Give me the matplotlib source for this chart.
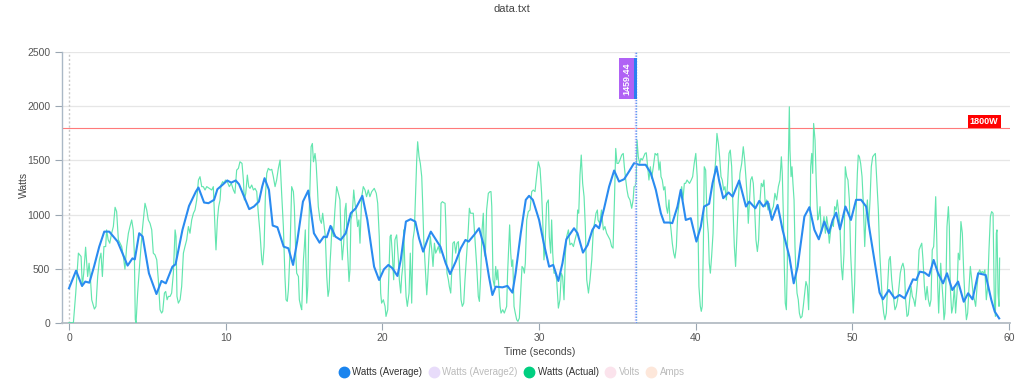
import matplotlib

matplotlib.use("Agg")
import matplotlib.pyplot as plt
from matplotlib.lines import Line2D
from matplotlib.patches import Rectangle

# ---- data ----
avg_time = [
    0, 0.45, 0.83, 1.04, 1.3, 1.6, 1.93, 2.25, 2.57, 3.1,
    3.5, 3.74, 4.05, 4.2, 4.48, 4.7, 5.1, 5.58, 5.9, 6.18,
    6.6, 6.8, 7.24, 7.66, 8.1, 8.26, 8.62, 8.9, 9.26, 9.47,
    9.8, 10.1, 10.35, 10.64, 10.85, 11.17, 11.5, 11.8, 12.12, 12.33,
    12.48, 12.76, 13.0, 13.3, 13.7, 14.0, 14.3, 14.56, 14.93, 15.27,
    15.63, 15.99, 16.26, 16.45, 16.69, 17.0, 17.34, 17.66, 17.98, 18.3,
    18.72, 19.04, 19.47, 19.79, 20.1, 20.38, 20.64, 20.96, 21.17, 21.5,
    21.8, 22.1, 22.34, 22.6, 22.87, 23.09, 23.4, 23.7, 24.04, 24.32,
    24.68, 25.0, 25.3, 25.5, 25.85, 26.17, 26.49, 26.8, 27.02, 27.23,
    27.66, 27.98, 28.3, 28.5, 28.83, 29.15, 29.36, 29.6, 30.0, 30.3,
    30.64, 30.9, 31.23, 31.49, 31.74, 32.23, 32.45, 32.8, 33.1, 33.4,
    33.6, 33.83, 34.15, 34.47, 34.79, 35.1, 35.43, 35.74, 36.06, 36.38,
    36.8, 37.13, 37.45, 37.77, 37.98, 38.3, 38.5, 38.83, 39.04, 39.36,
    39.68, 40.04, 40.32, 40.53, 40.85, 41.07, 41.32, 41.5, 41.75, 42.09,
    42.35, 42.77, 43.2, 43.41, 43.8, 44.05, 44.31, 44.58, 44.86, 45.22,
    45.54, 45.97, 46.25, 46.5, 46.93, 47.25, 47.57, 47.85, 48.2, 48.49,
    48.74, 48.96, 49.2, 49.55, 49.9, 50.23, 50.55, 50.87, 51.09, 51.4,
    51.73, 51.94, 52.32, 52.69, 53.0, 53.33, 53.86, 54.07, 54.29, 54.6,
    54.88, 55.18, 55.46, 55.78, 56.03, 56.37, 56.74, 57.1, 57.38, 57.66,
    58.02, 58.5, 58.86, 59.08, 59.36,
]
avg_watts = [
    318, 481, 340, 380, 370, 520, 703, 842, 842, 750,
    611, 528, 595, 585, 827, 796, 457, 265, 386, 364,
    518, 540, 858, 1080, 1213, 1250, 1111, 1105, 1136, 1234,
    1275, 1315, 1295, 1315, 1280, 1166, 1050, 1074, 1120, 1259,
    1336, 1228, 898, 883, 703, 688, 534, 750, 1120, 1222,
    827, 740, 796, 790, 895, 796, 765, 827, 1012, 1058,
    1173, 950, 518, 395, 494, 534, 503, 432, 580, 935,
    957, 935, 780, 657, 765, 842, 771, 703, 549, 450,
    565, 688, 765, 750, 811, 873, 703, 426, 256, 333,
    327, 340, 278, 457, 827, 1136, 1173, 1136, 950, 734,
    518, 534, 386, 549, 771, 873, 827, 648, 719, 858,
    904, 873, 1058, 1259, 1407, 1305, 1327, 1398, 1475, 1460,
    1460, 1382, 1228, 1012, 926, 926, 920, 1074, 1228, 950,
    966, 750, 889, 1074, 1099, 1290, 1444, 1305, 1151, 1204,
    1166, 1315, 1074, 1120, 1058, 1126, 1074, 1120, 950, 1089,
    858, 611, 364, 518, 981, 1068, 858, 771, 935, 827,
    950, 1018, 864, 1074, 950, 1136, 1136, 1074, 858, 580,
    278, 216, 302, 225, 256, 225, 401, 395, 472, 463,
    432, 580, 457, 364, 457, 302, 380, 194, 272, 216,
    457, 441, 210, 102, 40,
]

act_time = [
    0, 0.28, 0.43, 0.6, 0.77, 0.85, 0.94, 1.06, 1.19, 1.28,
    1.36, 1.45, 1.62, 1.72, 1.83, 1.94, 2.04, 2.13, 2.23, 2.34,
    2.4, 2.5, 2.6, 2.72, 2.83, 2.94, 3.04, 3.15, 3.26, 3.36,
    3.47, 3.57, 3.68, 3.79, 3.89, 4.0, 4.1, 4.17, 4.23, 4.28,
    4.38, 4.53, 4.68, 4.85, 4.96, 5.06, 5.17, 5.28, 5.38, 5.49,
    5.6, 5.7, 5.81, 5.91, 5.98, 6.09, 6.17, 6.26, 6.34, 6.45,
    6.55, 6.66, 6.77, 6.83, 6.89, 6.98, 7.09, 7.19, 7.3, 7.4,
    7.51, 7.62, 7.72, 7.83, 7.94, 8.04, 8.15, 8.26, 8.36, 8.47,
    8.57, 8.68, 8.79, 8.96, 9.11, 9.21, 9.27, 9.33, 9.38, 9.47,
    9.55, 9.64, 9.7, 9.81, 9.9, 9.98, 10.1, 10.23, 10.36, 10.49,
    10.59, 10.7, 10.81, 10.91, 11.04, 11.13, 11.19, 11.28, 11.38, 11.47,
    11.55, 11.66, 11.77, 11.87, 11.98, 12.08, 12.19, 12.3, 12.36, 12.45,
    12.53, 12.62, 12.72, 12.83, 12.94, 13.04, 13.15, 13.25, 13.36, 13.47,
    13.57, 13.68, 13.78, 13.85, 13.93, 14.0, 14.1, 14.21, 14.32, 14.38,
    14.47, 14.53, 14.64, 14.7, 14.79, 14.85, 14.96, 15.02, 15.08, 15.17,
    15.24, 15.3, 15.38, 15.45, 15.53, 15.6, 15.7, 15.77, 15.85, 15.91,
    16.02, 16.11, 16.19, 16.36, 16.45, 16.53, 16.6, 16.66, 16.72, 16.78,
    16.87, 16.97, 17.08, 17.19,
    17.29, 17.36, 17.44, 17.53, 17.61, 17.68, 17.76, 17.87, 17.93, 17.99,
    18.08, 18.17, 18.25, 18.34, 18.42, 18.5, 18.57, 18.68, 18.78, 18.89,
    18.99, 19.1, 19.2, 19.32, 19.48, 19.61, 19.7, 19.8, 19.89, 19.95,
    20.06, 20.17, 20.23, 20.34, 20.42, 20.49, 20.55, 20.63, 20.72, 20.8,
    20.91, 21.02, 21.08, 21.17, 21.23, 21.3, 21.36, 21.44, 21.51, 21.59,
    21.7, 21.78, 21.87, 21.95, 22.04, 22.13, 22.19, 22.25, 22.34, 22.42,
    22.51, 22.57, 22.64, 22.72, 22.83, 22.89, 22.97, 23.06, 23.15, 23.23,
    23.32, 23.4, 23.49, 23.57, 23.68, 23.74, 23.83, 23.91, 24.0, 24.06,
    24.12, 24.21, 24.27, 24.36, 24.42, 24.5, 24.59, 24.68, 24.76, 24.85,
    24.93, 25.02, 25.1, 25.19, 25.27, 25.38, 25.48, 25.55, 25.63, 25.7,
    25.8,
    25.91, 26.02, 26.12, 26.19, 26.27, 26.36, 26.44, 26.51, 26.57, 26.65,
    26.76, 26.87, 26.93, 26.98, 27.06, 27.15, 27.23, 27.3, 27.36, 27.51,
    27.57, 27.68, 27.78, 27.93, 27.99, 28.06, 28.12, 28.19, 28.25, 28.32,
    28.4, 28.48, 28.57, 28.65, 28.74, 28.82, 28.91, 28.99, 29.06, 29.12,
    29.21, 29.31, 29.42, 29.53, 29.63, 29.74, 29.84, 29.95, 30.06, 30.16,
    30.23, 30.31, 30.38, 30.48, 30.59, 30.65, 30.74, 30.8, 30.87, 30.95,
    31.04, 31.12, 31.23, 31.33, 31.42, 31.5, 31.59, 31.68, 31.76, 31.87,
    31.97, 32.08, 32.19, 32.29, 32.4, 32.46, 32.53, 32.61, 32.69, 32.78,
    32.87, 32.95, 33.04, 33.15, 33.25, 33.36, 33.46, 33.57, 33.63, 33.72,
    33.76, 33.87, 33.91, 33.98, 34.1,
    34.2, 34.31, 34.42, 34.53, 34.63, 34.72, 34.81, 34.89, 34.97, 35.06,
    35.16, 35.27, 35.37, 35.44, 35.53, 35.61, 35.69, 35.8, 35.91, 36.0,
    36.06, 36.13, 36.19, 36.25, 36.33, 36.42, 36.5, 36.59, 36.67, 36.76,
    36.84, 36.93, 37.01, 37.1, 37.18, 37.29, 37.4, 37.5, 37.57, 37.65,
    37.72, 37.78, 37.86, 37.95, 38.03, 38.12, 38.2, 38.29, 38.35, 38.42,
    38.5, 38.59, 38.67, 38.76, 38.84, 38.93, 39.01, 39.1, 39.18, 39.27,
    39.35, 39.44, 39.52, 39.6, 39.71, 39.8, 39.9, 40.0, 40.09, 40.15,
    40.2, 40.29, 40.35, 40.41, 40.48, 40.54, 40.63, 40.71, 40.8, 40.86,
    40.93, 41.01, 41.1, 41.18, 41.27, 41.35, 41.44, 41.52, 41.61, 41.69,
    41.78, 41.86, 41.95, 42.03, 42.12, 42.2, 42.29, 42.37, 42.46, 42.54,
    42.63, 42.71, 42.82, 42.93, 43.03,
    43.12, 43.21, 43.29, 43.35, 43.42, 43.5, 43.59, 43.67, 43.76, 43.84,
    43.93, 44.01, 44.1, 44.18, 44.27, 44.35, 44.44, 44.52, 44.61, 44.69,
    44.78, 44.86, 44.95, 45.05, 45.16, 45.27, 45.37, 45.46, 45.52, 45.59,
    45.65, 45.71, 45.78, 45.84, 45.9, 45.97, 46.01, 46.08, 46.14, 46.2,
    46.27, 46.33, 46.4, 46.46, 46.54, 46.61, 46.69, 46.78, 46.86, 46.95,
    47.03, 47.12, 47.2, 47.27, 47.33, 47.4, 47.46, 47.52, 47.61, 47.69,
    47.78, 47.84, 47.93, 48.01, 48.1, 48.18, 48.27, 48.35, 48.44, 48.52,
    48.61, 48.69, 48.78, 48.86, 48.95, 49.03, 49.12, 49.2, 49.29, 49.37,
    49.46, 49.54, 49.63, 49.71, 49.8, 49.88, 49.97, 50.05, 50.14, 50.22,
    50.31, 50.37, 50.44, 50.52, 50.61, 50.69, 50.78, 50.86, 50.95, 51.03,
    51.12, 51.2, 51.29, 51.37, 51.46,
    51.54, 51.65, 51.73, 51.82, 51.9, 51.99, 52.07, 52.16, 52.24, 52.33,
    52.41, 52.5, 52.61, 52.71, 52.8, 52.88, 52.97, 53.05, 53.14, 53.22,
    53.31, 53.39, 53.48, 53.56, 53.65, 53.74, 53.82, 53.91, 53.99, 54.08,
    54.16, 54.25, 54.33, 54.42, 54.5, 54.59, 54.67, 54.76, 54.84, 54.93,
    55.01, 55.09, 55.18, 55.24, 55.31, 55.37, 55.44, 55.5, 55.56, 55.63,
    55.69, 55.78, 55.84, 55.9, 55.97, 56.03, 56.12, 56.18, 56.24, 56.33,
    56.41, 56.5, 56.58, 56.67, 56.75, 56.84, 56.92, 57.01, 57.1, 57.18,
    57.27, 57.35, 57.44, 57.52, 57.61, 57.69, 57.78, 57.86, 57.95, 58.03,
    58.12, 58.2, 58.28, 58.37, 58.45, 58.54, 58.63, 58.71, 58.8, 58.88,
    58.97, 59.05, 59.12, 59.18, 59.22, 59.29, 59.35, 59.39,
]
act_watts = [
    0, 0, 274, 643, 612, 335, 458, 698, 427, 550,
    427, 212, 126, 150, 427, 581, 643, 427, 704, 704,
    858, 766, 735, 827, 889, 1067, 1027, 766, 735, 704,
    612, 495, 704, 827, 889, 950, 858, 643, 28, 0,
    274, 581, 858, 1104, 1042, 950, 919, 858, 643, 627,
    581, 397, 120, 89, 105, 274, 289, 212, 243, 243,
    274, 458, 858, 796, 243, 181, 212, 335, 643, 704,
    766, 889, 827, 950, 1012, 1042, 1135, 1319, 1350, 1258,
    1258, 1227, 1258, 1242, 1227, 1258, 1042, 827, 673, 950,
    1073, 1135, 1273, 1304, 1288, 1319, 1304, 1258, 1288, 1227,
    1196, 1411, 1427, 1488, 1473, 1319, 1135, 1196, 1365, 1258,
    1242, 1273, 1227, 1242, 1212, 1012, 827, 581, 535, 704,
    1165, 1381, 1427, 1411, 1418, 1350, 1258, 1319, 1427, 1504,
    1196, 889, 427, 212, 197, 304, 643, 1258, 1212, 1073,
    643, 458, 427, 212, 151, 120, 581, 704, 858, 181,
    335, 858, 1258, 1627, 1657, 1488, 1565, 1473, 1258, 1073,
    950, 919, 1012, 796, 427, 243, 304, 550, 704, 889,
    796, 1042, 1258, 1196,
    1135, 796, 581, 735, 1042, 1104, 704, 381, 489, 950,
    1012, 1227, 1104, 1012, 889, 950, 735, 1165, 1258, 1227,
    1165, 1227, 1165, 1212, 1242, 1196, 1104, 796, 274, 181,
    212, 151, 58, 120, 489, 796, 812, 643, 397, 766,
    812, 581, 397, 274, 427, 520, 858, 489, 243, 151,
    274, 643, 181, 766, 858, 1258, 1504, 1673, 1534, 1473,
    1350, 1104, 766, 550, 258, 397, 612, 796, 673, 520,
    735, 643, 673, 704, 643, 1104, 1119, 1110, 1104, 858,
    458, 397, 335, 274, 458, 735, 750, 643, 735, 750,
    489, 212, 151, 181, 397, 643, 858, 1058, 1012, 1012,
    1012,
    766, 520, 243, 197, 427, 858, 1012, 643, 612, 1042,
    1196, 1212, 1212, 1073, 397, 335, 520, 397, 489, 151,
    89, 120, 89, 151, 458, 704, 904, 643, 520, 581,
    151, 89, 28, 12, 43, 274, 520, 504, 458, 550,
    950, 1027, 1042, 1212, 1227, 1212, 1350, 1488, 1427, 1196,
    950, 581, 704, 1104, 1135, 796, 643, 950, 643, 458,
    458, 397, 135, 212, 458, 427, 212, 643, 796, 858,
    720, 735, 704, 766, 827, 1042, 1012, 1365, 1550, 1288,
    1165, 889, 397, 274, 397, 581, 858, 950, 1012, 1042,
    950, 919, 965, 1042, 858,
    889, 827, 796, 766, 704, 689, 1135, 1611, 1473, 1473,
    1504, 1550, 1565, 1442, 1319, 1227, 1165, 1135, 1058, 1135,
    1258, 1258, 1319, 1688, 1534, 1473, 1519, 1504, 1534, 1565,
    1571, 1442, 1319, 1442, 1335, 1442, 1565, 1550, 1565, 1411,
    1488, 1350, 1319, 1227, 1258, 1073, 1012, 1135, 950, 858,
    735, 643, 597, 704, 981, 1104, 1196, 1258, 1135, 1288,
    1288, 1319, 1304, 1288, 1319, 1350, 1473, 1565, 1350, 827,
    335, 151, 105, 151, 673, 1442, 1411, 981, 827, 550,
    458, 612, 827, 1350, 1504, 1750, 1657, 1534, 1350, 1319,
    1227, 1258, 1135, 1288, 1565, 1596, 1442, 1073, 704, 520,
    827, 1135, 1381, 1473, 1627,
    1504, 1319, 1135, 919, 1104, 1319, 1350, 1288, 1042, 766,
    658, 766, 1135, 1288, 1258, 1319, 1073, 1135, 1042, 1104,
    981, 1042, 1073, 1196, 1135, 1258, 1319, 1534, 1381, 981,
    520, 181, 120, 520, 1442, 1996, 1596, 1350, 1442, 1288,
    1135, 704, 427, 274, 212, 89, 43, 58, 151, 274,
    381, 335, 120, 520, 1442, 1565, 1381, 1842, 1688, 1288,
    950, 981, 1073, 827, 889, 981, 827, 981, 889, 735,
    858, 919, 889, 1073, 1042, 1135, 1012, 889, 520, 397,
    643, 1442, 1350, 1319, 1135, 643, 366, 89, 366, 981,
    1381, 1550, 1534, 1473, 1350, 1104, 704, 981, 1135, 889,
    1135, 1442, 1534, 1550, 1565,
    1350, 1042, 673, 427, 212, 89, 28, 89, 335, 581,
    612, 397, 243, 120, 151, 212, 335, 458, 520, 550,
    489, 212, 58, 74, 212, 335, 243, 212, 151, 274,
    397, 673, 704, 735, 581, 335, 212, 335, 212, 151,
    212, 673, 704, 889, 1165, 827, 335, 89, 335, 550,
    397, 212, 28, 89, 397, 889, 1073, 889, 335, 89,
    151, 335, 89, 274, 643, 581, 935, 827, 458, 212,
    28, 89, 335, 520, 397, 274, 212, 151, 335, 458,
    489, 458, 474, 458, 489, 212, 335, 673, 981, 1027,
    1012, 212, 58, 827, 858, 274, 151, 597,
]

limit_watts = 1800
limit_label = "1800W"
marker_time = 36.2
marker_value = 1459.44

legend_labels = ["Watts (Average)", "Watts (Average2)", "Watts (Actual)", "Volts", "Amps"]
legend_colors = ["#1a84ee", "#e8dcfa", "#00cf80", "#fbe3ec", "#fde7da"]
legend_active = [True, False, True, False, False]

y_ticks = [0, 500, 1000, 1500, 2000, 2500]
x_ticks = [0, 10, 20, 30, 40, 50, 60]

# ---- drawing ----
plt.rcParams["font.family"] = ["Liberation Sans", "DejaVu Sans"]

fig = plt.figure(figsize=(10.24, 3.86), dpi=100)
ax = fig.add_axes([0.0605, 0.164, 0.9258, 0.7005])

ax.yaxis.grid(True, color="#e6e6e6", lw=0.9)
ax.set_axisbelow(True)

ax.axvline(0, color="#c8c8c8", ls=(0, (1.5, 1.5)), lw=1.0, zorder=1)
ax.axhline(limit_watts, color="#ff7a7a", lw=0.8, zorder=2)

ax.plot(act_time, act_watts, color="#52e3a6", lw=0.85, alpha=0.9, zorder=3)
ax.plot(avg_time, avg_watts, color="#2a8bf0", lw=1.5, zorder=4,
        solid_joinstyle="round")

# hover marker
ax.axvline(marker_time - 0.1, color="#c9b3f7", ls=(0, (1, 1)), lw=1.0, zorder=5)
ax.axvline(marker_time, color="#5b9ff2", ls=(0, (1, 1)), lw=1.0, zorder=5)
ax.add_patch(Rectangle((marker_time - 1.1, 2068), 0.96, 378,
                       facecolor="#b062f5", edgecolor="none", zorder=6))
ax.add_patch(Rectangle((marker_time - 0.14, 2068), 0.19, 378,
                       facecolor="#2a7ff0", edgecolor="none", zorder=6))
ax.text(marker_time - 0.62, 2257, f"{marker_value:.2f}", rotation=90,
        ha="center", va="center", color="white", fontsize=6.5,
        fontweight="bold", zorder=7)

# limit label
ax.text(58.4, 1862, limit_label, ha="center", va="center", color="white",
        fontsize=6.5, fontweight="bold", zorder=7,
        bbox=dict(boxstyle="square,pad=0.25", facecolor="#ff0000",
                  edgecolor="none"))

ax.set_xlim(-0.45, 60.05)
ax.set_ylim(0, 2500)
ax.set_xticks(x_ticks)
ax.set_yticks(y_ticks)

for side in ("top", "right"):
    ax.spines[side].set_visible(False)
ax.spines["left"].set_color("#aab8c6")
ax.spines["left"].set_linewidth(1.0)
ax.spines["bottom"].set_color("#b4bcc4")
ax.spines["bottom"].set_linewidth(1.3)
ax.tick_params(axis="both", colors="#9aa6b2", labelcolor="#555555",
               labelsize=7.5, length=5, width=0.8)
ax.tick_params(axis="x", pad=2.5)

ax.set_xlabel("Time (seconds)", fontsize=7.5, color="#444444")
ax.xaxis.set_label_coords(0.504, -0.09)
ax.set_ylabel("Watts", fontsize=7.5, color="#444444")
ax.yaxis.set_label_coords(-0.035, 0.51)

fig.text(0.5, 0.977, "data.txt", ha="center", va="center",
         fontsize=8, color="#444444")

handles = [Line2D([], [], marker="o", linestyle="", markersize=7.5,
                  markerfacecolor=c, markeredgecolor=c) for c in legend_colors]
leg = fig.legend(handles, legend_labels, loc="center",
                 bbox_to_anchor=(0.5, 0.036), ncol=5, frameon=False,
                 fontsize=7, handletextpad=0.35, columnspacing=0.7,
                 handlelength=1.0)
for txt, active in zip(leg.get_texts(), legend_active):
    txt.set_color("#333333" if active else "#bbbbbb")

fig.savefig("out.png", dpi=100)
